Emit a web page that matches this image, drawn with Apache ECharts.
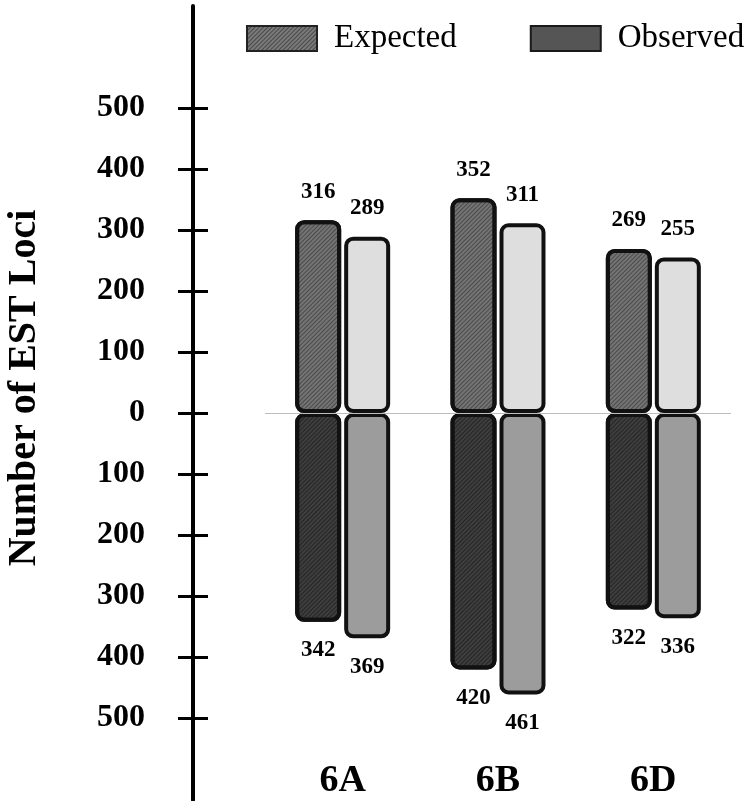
<!DOCTYPE html>
<html>
<head>
<meta charset="utf-8">
<script src="https://cdn.jsdelivr.net/npm/echarts@6/dist/echarts.min.js"></script>
<style>html,body{margin:0;padding:0;background:#fff}#c{width:755px;height:801px}</style>
</head>
<body>
<div id="c"></div>
<script>
var categories = ['6A', '6B', '6D'];
var expectedUpper = [316, 352, 269];
var observedUpper = [289, 311, 255];
var expectedLower = [342, 420, 322];
var observedLower = [369, 461, 336];
var tickValues = [-500, -400, -300, -200, -100, 0, 100, 200, 300, 400, 500];

var serif = "'Liberation Serif', 'Times New Roman', 'DejaVu Serif', serif";
var neg = function (a) { return a.map(function (v) { return -v; }); };
var hatch = function (c) {
  return { symbol: 'rect', symbolSize: 1, dashArrayX: [[1, 0]], dashArrayY: [1, 2], rotation: -Math.PI / 4, color: c };
};
var labelStyle = function (pos) {
  return {
    show: true, position: pos, distance: 17,
    fontFamily: serif, fontWeight: 'bold', fontSize: 23, color: '#000',
    formatter: function (p) { return Math.abs(p.value); }
  };
};
var barBase = { type: 'bar', barWidth: 46, barGap: '6.5%' };

var chart = echarts.init(document.getElementById('c'), null, { renderer: 'canvas' });
chart.setOption({
  animation: false,
  backgroundColor: '#fff',
  legend: {
    left: 241, top: 17, itemWidth: 70, itemHeight: 25, itemGap: 73,
    textStyle: { fontFamily: serif, fontSize: 33, color: '#000', padding: [0, 0, 0, 12] },
    data: [
      { name: 'Expected', icon: 'rect', itemStyle: { color: '#7a7a7a', borderColor: '#222', borderWidth: 2, decal: hatch('rgba(40,40,40,0.6)') } },
      { name: 'Observed', icon: 'rect', itemStyle: { color: '#555555', borderColor: '#1a1a1a', borderWidth: 2 } }
    ],
    selectedMode: false
  },
  grid: { left: 265, right: 24, top: 6, bottom: 1, outerBoundsMode: 'none', containLabel: false },
  xAxis: {
    type: 'category', data: categories,
    axisLine: { show: false, onZero: false }, axisTick: { show: false },
    axisLabel: { inside: true, margin: 0, fontFamily: serif, fontWeight: 'bold', fontSize: 38, color: '#000' }
  },
  yAxis: [
    {
      type: 'value', min: -634, max: 667, position: 'left', offset: 72,
      axisLine: { show: true, lineStyle: { color: '#000', width: 4 } },
      axisTick: { show: true, length: 15, lineStyle: { color: '#000', width: 3 }, customValues: tickValues },
      axisLabel: {
        show: true, margin: 48, fontFamily: serif, fontWeight: 'bold', fontSize: 32, color: '#000',
        customValues: tickValues, formatter: function (v) { return Math.abs(v); }
      },
      splitLine: { show: false },
      name: 'Number of EST Loci', nameLocation: 'middle', nameRotate: 90, nameGap: 148,
      nameTextStyle: { fontFamily: serif, fontWeight: 'bold', fontSize: 40, color: '#000', padding: [0, 0, 0, 30] }
    },
    {
      type: 'value', min: -634, max: 667, position: 'left', offset: 72,
      axisLine: { show: false },
      axisTick: { show: true, inside: true, length: 15, lineStyle: { color: '#000', width: 3 }, customValues: tickValues },
      axisLabel: { show: false }, splitLine: { show: false }
    }
  ],
  series: [
    Object.assign({}, barBase, {
      name: 'Expected', stack: 'exp', data: expectedUpper,
      itemStyle: { color: '#747474', borderColor: '#111', borderWidth: 4, borderRadius: 7, decal: hatch('rgba(40,40,40,0.55)') },
      label: labelStyle('top'),
      markLine: {
        silent: true, symbol: 'none', label: { show: false },
        lineStyle: { color: '#bdbdbd', width: 1, type: 'solid' },
        data: [{ yAxis: 0 }]
      }
    }),
    Object.assign({}, barBase, {
      name: 'Observed', stack: 'obs', data: observedUpper,
      itemStyle: { color: '#dedede', borderColor: '#111', borderWidth: 4, borderRadius: 7 },
      label: labelStyle('top')
    }),
    Object.assign({}, barBase, {
      name: 'Expected', stack: 'exp', data: neg(expectedLower),
      itemStyle: { color: '#3e3e3e', borderColor: '#111', borderWidth: 4, borderRadius: 7, decal: hatch('rgba(20,20,20,0.6)') },
      label: labelStyle('bottom')
    }),
    Object.assign({}, barBase, {
      name: 'Observed', stack: 'obs', data: neg(observedLower),
      itemStyle: { color: '#9c9c9c', borderColor: '#111', borderWidth: 4, borderRadius: 7 },
      label: labelStyle('bottom')
    })
  ]
});
</script>
</body>
</html>
